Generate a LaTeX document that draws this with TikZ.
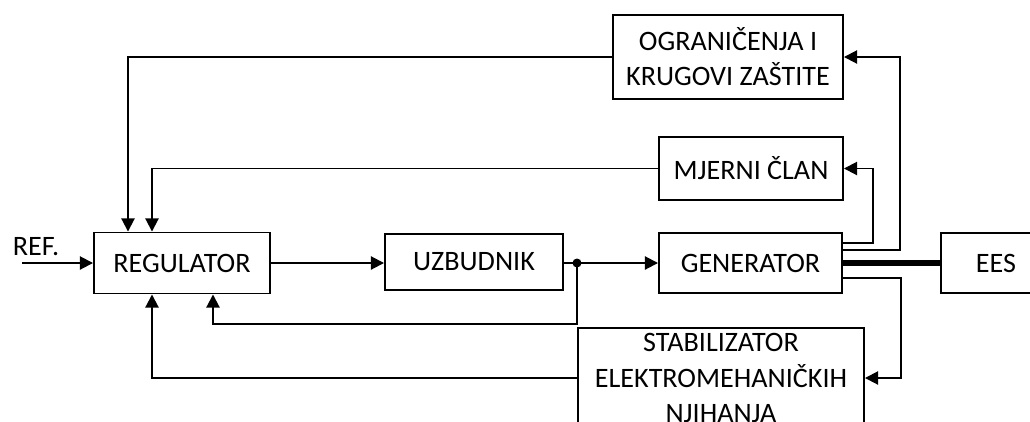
\documentclass[tikz,border=0pt]{standalone}
\usepackage{fontspec}
\setmainfont{Carlito}
\usetikzlibrary{arrows.meta,positioning,calc}

\tikzset{
  blok/.style={draw, line width=1.1pt, align=center, inner sep=0pt,
    font=\fontsize{16}{20}\selectfont},
  veza/.style={line width=1.1pt},
  >={Triangle[length=7.5pt,width=7.5pt]}
}

\begin{document}
\begin{tikzpicture}

\useasboundingbox (0,0) rectangle (20.6,-8.42);
\clip (0,0) rectangle (20.6,-8.42);

\node[blok, minimum width=3.52cm, minimum height=1.22cm] (reg) at (3.64,-5.26) {REGULATOR};
\node[blok, minimum width=3.56cm, minimum height=1.12cm] (uzb) at (9.48,-5.24) {UZBUDNIK};
\node[blok, minimum width=3.66cm, minimum height=1.2cm] (gen) at (15.01,-5.26) {GENERATOR};
\node[blok, minimum width=2.2cm, minimum height=1.2cm] (ees) at (19.92,-5.26) {EES};
\node[blok, minimum width=3.68cm, minimum height=1.26cm] (mjer) at (15.02,-3.37) {MJERNI ČLAN};
\node[blok, minimum width=4.6cm, minimum height=1.68cm] (ogr) at (14.56,-1.14) {OGRANIČENJA I\\KRUGOVI ZAŠTITE};
\node[blok, minimum width=5.72cm, minimum height=2cm] (stab) at (14.42,-7.56) {STABILIZATOR\\ELEKTROMEHANIČKIH\\NJIHANJA};

\coordinate (ref) at (0.44,-5.26);
\coordinate (tap) at (11.54,-5.26);
\node[font=\fontsize{16}{20}\selectfont] (reft) at (0.72,-4.94) {REF.};

% glavna grana
\draw[veza,->] (ref) -- (reg);
\draw[veza,->] (reg) -- (uzb.west |- reg);
\draw[veza,->] (uzb.east |- tap) -- (gen.west |- tap);
\fill (tap) circle (0.09);
\draw[line width=3.5pt] (gen) -- (ees);

% povratne veze
\draw[veza,->] (tap) -- ++(0,-1.22) -| ([xshift=0.62cm]reg.south);
\draw[veza,->] (ogr.west) -| ([xshift=-1.08cm]reg.north);
\draw[veza,->] (mjer.west) -| ([xshift=-0.6cm]reg.north);
\draw[veza,->] (stab.west) -| ([xshift=-0.6cm]reg.south);

% izlazi generatora
\draw[veza,->] ([yshift=0.4cm]gen.east) -- ++(0.6,0) |- (mjer.east);
\draw[veza,->] ([yshift=0.26cm]gen.east) -- ++(1.14,0) |- (ogr.east);
\draw[veza,->] ([yshift=-0.3cm]gen.east) -- ++(1.16,0) |- (stab.east);

\end{tikzpicture}
\end{document}
